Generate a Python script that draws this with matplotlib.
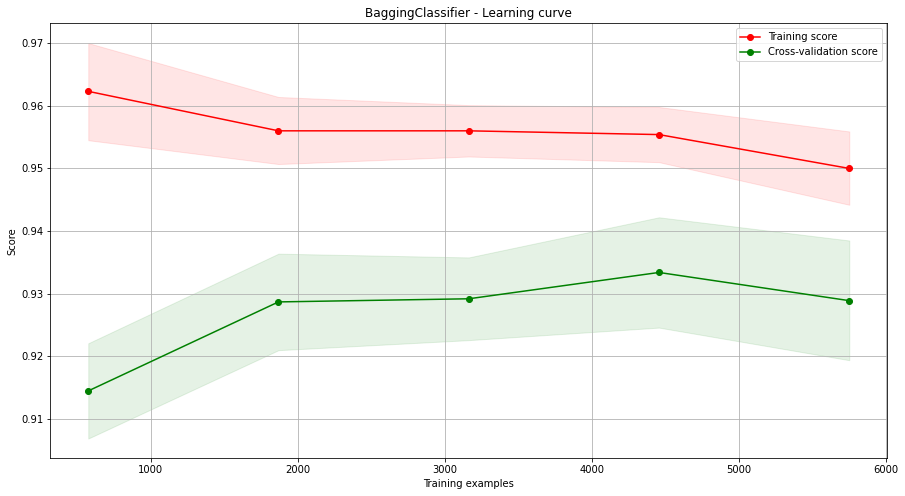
import numpy as np
import matplotlib
matplotlib.use("Agg")
import matplotlib.pyplot as plt

train_sizes = [575, 1868, 3162, 4455, 5749]
train_mean = [0.9623, 0.9560, 0.9560, 0.9554, 0.9500]
train_upper = [0.9700, 0.9614, 0.9601, 0.9598, 0.9559]
train_lower = [0.9545, 0.9507, 0.9519, 0.9510, 0.9442]
cv_mean = [0.9145, 0.9287, 0.9292, 0.9334, 0.9289]
cv_upper = [0.9221, 0.9364, 0.9358, 0.9422, 0.9385]
cv_lower = [0.9069, 0.9210, 0.9226, 0.9246, 0.9194]

DPI = 72
fig = plt.figure(figsize=(905 / DPI, 496 / DPI), dpi=DPI)
ax = fig.add_subplot(111)
fig.subplots_adjust(left=0.0555, right=0.9805, top=0.953, bottom=0.076)

ax.set_title("BaggingClassifier - Learning curve")
ax.set_xlabel("Training examples")
ax.set_ylabel("Score")
ax.grid()
ax.fill_between(train_sizes, train_lower, train_upper, alpha=0.1, color="r")
ax.fill_between(train_sizes, cv_lower, cv_upper, alpha=0.1, color="g")
ax.plot(train_sizes, train_mean, 'o-', color="r", label="Training score")
ax.plot(train_sizes, cv_mean, 'o-', color="g", label="Cross-validation score")
ax.legend(loc="best")

fig.savefig("out.png", dpi=DPI)
